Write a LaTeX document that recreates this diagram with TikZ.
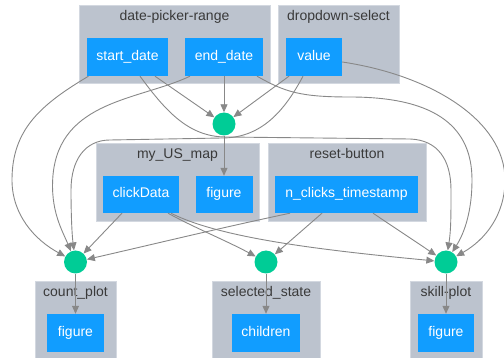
\documentclass[tikz,border=0pt]{standalone}
\usepackage{fontspec}
\setmainfont{Liberation Sans}
\usetikzlibrary{arrows.meta}
\definecolor{clus}{HTML}{BCC3CE}
\definecolor{clusedge}{HTML}{D3D8E0}
\definecolor{nodeblue}{HTML}{119DFF}
\definecolor{cbgreen}{HTML}{00CC96}
\definecolor{edgegray}{HTML}{888888}
\definecolor{labgray}{HTML}{3A3A3A}
\begin{document}
\begin{tikzpicture}[x=1pt,y=-1pt,
  cluster/.style={fill=clus,draw=clusedge,line width=0.6pt,inner sep=0pt},
  prop/.style={fill=nodeblue,text=white,inner sep=0pt,font=\fontsize{14}{16}\selectfont,text height=10pt,text depth=3pt},
  cbk/.style={circle,fill=cbgreen,minimum size=23pt,inner sep=0pt},
  clabel/.style={text=labgray,inner sep=0pt,font=\fontsize{14}{16}\selectfont,text height=10pt,text depth=3pt},
  edge/.style={draw=edgegray,line width=0.9pt,-{Triangle[length=8pt,width=7pt]}}
]
\useasboundingbox (0,0) rectangle (504,358);
% clusters
\node[cluster,minimum width=191pt,minimum height=78pt] (dprc) at (174.5,44) {};
\node[cluster,minimum width=121pt,minimum height=78pt] (ddsc) at (338.5,44) {};
\node[cluster,minimum width=163pt,minimum height=78pt] (mapc) at (177.5,182) {};
\node[cluster,minimum width=158pt,minimum height=78pt] (rstc) at (347,182) {};
\node[cluster,minimum width=81pt,minimum height=78pt] (cntc) at (75.5,320) {};
\node[cluster,minimum width=108pt,minimum height=78pt] (selc) at (266,320) {};
\node[cluster,minimum width=72pt,minimum height=78pt] (sklc) at (446,320) {};
% cluster labels
\node[clabel] (dprl) at (174.5,17.5) {date-picker-range};
\node[clabel] (ddsl) at (338.5,17.5) {dropdown-select};
\node[clabel] (mapl) at (177.5,155) {my\_US\_map};
\node[clabel] (rstl) at (347,155) {reset-button};
\node[clabel] (cntl) at (75.5,293) {count\_plot};
\node[clabel] (sell) at (266,293) {selected\_state};
\node[clabel] (skll) at (446,293) {skill-plot};
% property nodes
\node[prop,minimum width=81pt,minimum height=38pt] (sd) at (127.5,57) {start\_date};
\node[prop,minimum width=78pt,minimum height=38pt] (ed) at (224,57) {end\_date};
\node[prop,minimum width=56pt,minimum height=38pt] (val) at (314,57) {value};
\node[prop,minimum width=76pt,minimum height=37pt] (cd) at (141,194.5) {clickData};
\node[prop,minimum width=57pt,minimum height=37pt] (mapfig) at (224,194.5) {figure};
\node[prop,minimum width=143pt,minimum height=37pt] (nct) at (346.5,194.5) {n\_clicks\_timestamp};
\node[prop,minimum width=57pt,minimum height=38pt] (cntfig) at (75.5,333) {figure};
\node[prop,minimum width=68pt,minimum height=38pt] (chl) at (266,333) {children};
\node[prop,minimum width=56pt,minimum height=38pt] (sklfig) at (446,333) {figure};
% callback circles
\node[cbk] (cb1) at (224,124) {};
\node[cbk] (cb2) at (75.5,262) {};
\node[cbk] (cb3) at (266,262) {};
\node[cbk] (cb4) at (446,262) {};
% edges into cb1
\draw[edge] ([xshift=27.5pt]sd.south) -- (cb1);
\draw[edge] (ed.south) -- (cb1);
\draw[edge] ([xshift=-25pt]val.south) -- (cb1);
% edges into cb2
\draw[edge] ([xshift=-39pt]sd.south) .. controls (40,105) and (12,130) .. (12,180)
   .. controls (12,215) and (35,240) .. (cb2);
\draw[edge] ([xshift=-34pt]ed.south) .. controls (140,100) and (60,100) .. (53,175)
   .. controls (50,210) and (62,230) .. (cb2);
\draw[edge] ([xshift=-11pt]val.south) .. controls (285,110) and (262,138) .. (222,138)
   -- (110,140) .. controls (85,140) and (71,160) .. (71,190)
   .. controls (71,215) and (72,235) .. (cb2);
\draw[edge] ([xshift=-19pt]cd.south) -- (cb2);
\draw[edge] ([xshift=-56.5pt]nct.south) .. controls (220,228) and (150,245) .. (cb2);
% edges into cb3
\draw[edge] ([xshift=27pt]cd.south) .. controls (195,228) and (225,240) .. (cb3);
\draw[edge] ([xshift=-24.5pt]nct.south) -- (cb3);
% edges into cb4
\draw[edge] ([xshift=12.5pt]sd.south) .. controls (165,110) and (188,137) .. (226,137)
   -- (410,139) .. controls (438,140) and (451,160) .. (451,190)
   .. controls (451,215) and (451,230) .. (cb4);
\draw[edge] ([xshift=33pt]ed.south) .. controls (285,92) and (300,97) .. (350,97)
   .. controls (440,97) and (472,130) .. (472,180)
   .. controls (472,210) and (465,232) .. (cb4);
\draw[edge] ([yshift=-5pt]val.east) .. controls (430,75) and (505,120) .. (505,180)
   .. controls (505,215) and (485,240) .. (cb4);
\draw[edge] ([xshift=30pt]cd.south) .. controls (220,238) and (320,250) .. (cb4);
\draw[edge] ([xshift=26.5pt]nct.south) -- (cb4);
% outputs
\draw[edge] (cb1) -- (mapfig);
\draw[edge] (cb2) -- (cntfig);
\draw[edge] (cb3) -- (chl);
\draw[edge] (cb4) -- (sklfig);
\end{tikzpicture}
\end{document}
